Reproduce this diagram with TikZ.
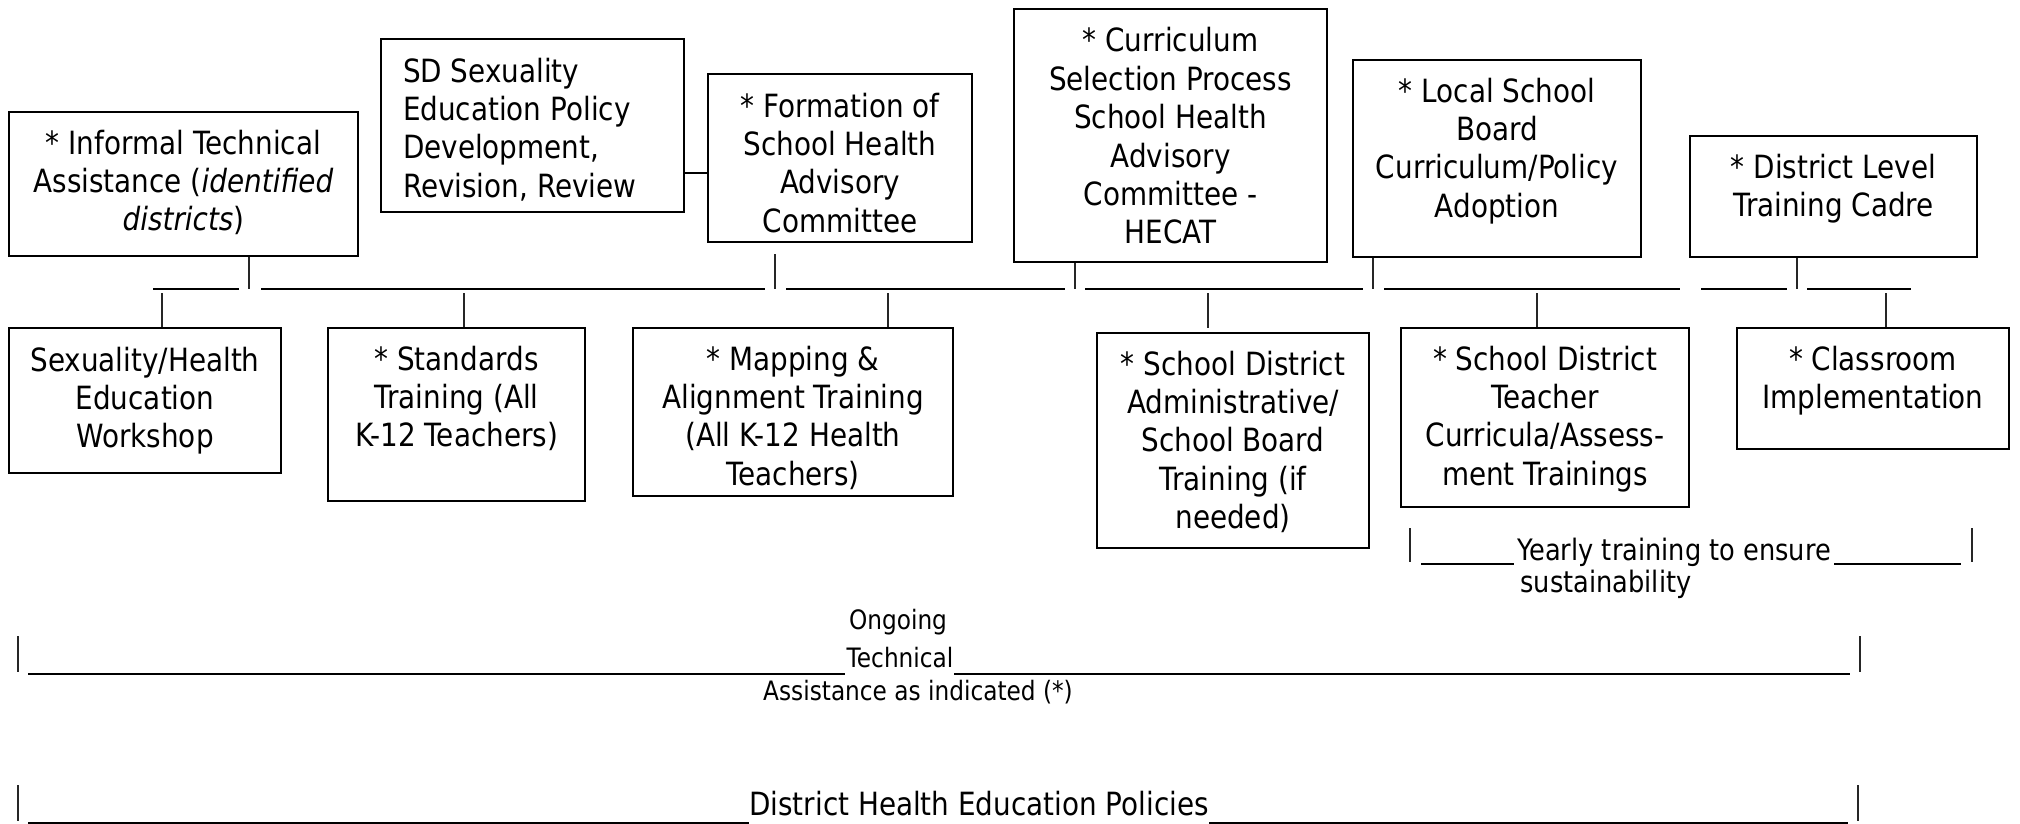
\documentclass[tikz,border=0pt]{standalone}
\usepackage{fontspec}
\setmainfont{DejaVu Sans}[FakeStretch=0.87]
\newcommand\mainsz{\fontsize{32}{38.4}\selectfont}
\newcommand\midsz{\fontsize{29.5}{32}\selectfont}
\newcommand\smallsz{\fontsize{26.7}{36}\selectfont}
\newcommand\cbox[4]{\parbox[c][#2pt][t]{#1pt}{\centering\rule{0pt}{#3pt}#4\par}}
\newcommand\lbox[4]{\parbox[c][#2pt][t]{#1pt}{\raggedright\leftskip=22pt\rule{0pt}{#3pt}#4\par}}
\tikzset{
  box/.style={draw, line width=2pt, inner sep=0pt, font=\mainsz},
  tick/.style={line width=1.3pt, black!85},
  uline/.style={line width=2pt},
  bar/.style={line width=1.7pt, black!85},
  lbl/.style={anchor=base, inner sep=0pt},
}
\begin{document}
\begin{tikzpicture}[x=1pt,y=-1pt]
\useasboundingbox (0,0) rectangle (2020,824);

% top row
\node[box] (A) at (183.5,184) {\cbox{349}{144}{42}{* Informal Technical\\Assistance (\textit{identified}\\\textit{districts})}};
\node[box] (B) at (532.5,125.5) {\lbox{303}{173}{43}{SD Sexuality\\Education Policy\\Development,\\Revision, Review}};
\node[box] (C) at (840,158) {\cbox{264}{168}{43}{* Formation of\\School Health\\Advisory\\Committee}};
\node[box] (D) at (1170.5,135.5) {\cbox{313}{253}{43}{* Curriculum\\Selection Process\\School Health\\Advisory\\Committee -\\HECAT}};
\node[box] (E) at (1497,158.5) {\cbox{288}{197}{42}{* Local School\\Board\\Curriculum/Policy\\Adoption}};
\node[box] (F) at (1833.5,196.5) {\cbox{287}{121}{42}{* District Level\\Training Cadre}};

% bottom row
\node[box] (G) at (145,400.5) {\cbox{272}{145}{43}{Sexuality/Health\\Education\\Workshop}};
\node[box] (H) at (456.5,414.5) {\cbox{257}{173}{42}{* Standards\\Training (All\\K-12 Teachers)}};
\node[box] (I) at (793,412) {\cbox{320}{168}{42}{* Mapping \&\\Alignment Training\\(All K-12 Health\\Teachers)}};
\node[box] (J) at (1233,440.5) {\cbox{272}{215}{42}{* School District\\Administrative/\\School Board\\Training (if\\needed)}};
\node[box] (K) at (1545,417.5) {\cbox{288}{179}{42}{* School District\\Teacher\\Curricula/Assess-\\ment Trainings}};
\node[box] (L) at (1873,388.5) {\cbox{272}{121}{42}{* Classroom\\Implementation}};

% link SD -> Formation
\coordinate (lk) at (0,173);
\draw[uline] (B.east |- lk) -- (C.west |- lk);

% spine
\foreach \a/\b in {153/239, 261/765, 786/1065, 1085/1363, 1384/1680, 1701/1787, 1807/1911}
  \draw[uline] (\a,289) -- (\b,289);

% up ticks
\coordinate (u1) at (249,289);
\coordinate (u2) at (775,289);
\coordinate (u2t) at (775,254);
\coordinate (u3) at (1075,289);
\coordinate (u4) at (1373,289);
\coordinate (u5) at (1797,289);
\draw[tick] (A.south -| u1) -- (u1);
\draw[tick] (u2t) -- (u2);
\draw[tick] (D.south -| u3) -- (u3);
\draw[tick] (E.south -| u4) -- (u4);
\draw[tick] (F.south -| u5) -- (u5);

% down ticks
\coordinate (d1) at (162,293);
\coordinate (d2) at (464,293);
\coordinate (d3) at (888,293);
\coordinate (d4) at (1208,293);
\coordinate (d4b) at (1208,328);
\coordinate (d5) at (1537,293);
\coordinate (d6) at (1886,293);
\draw[tick] (d1) -- (G.north -| d1);
\draw[tick] (d2) -- (H.north -| d2);
\draw[tick] (d3) -- (I.north -| d3);
\draw[tick] (d4) -- (d4b);
\draw[tick] (d5) -- (K.north -| d5);
\draw[tick] (d6) -- (L.north -| d6);

% yearly training bracket
\node[lbl, font=\midsz] (yr) at (1674,560) {Yearly training to ensure};
\node[lbl, font=\midsz] (sus) at (1606,592) {sustainability};
\draw[bar] (1410,528) -- (1410,562);
\draw[bar] (1972,528) -- (1972,562);
\draw[uline] (1421,564) -- (1514,564);
\draw[uline] (1834,564) -- (1961,564);

% ongoing technical assistance
\node[lbl, font=\smallsz] (og) at (898,629) {Ongoing};
\node[lbl, font=\smallsz] (tc) at (900,667) {Technical};
\node[lbl, font=\smallsz] (as) at (918,700) {Assistance as indicated (*)};
\draw[bar] (18,636) -- (18,672);
\draw[bar] (1860,636) -- (1860,672);
\draw[uline] (28,674) -- (845,674);
\draw[uline] (954,674) -- (1850,674);

% district health education policies
\node[lbl, font=\mainsz] (dh) at (979,815) {District Health Education Policies};
\draw[bar] (18,785) -- (18,821);
\draw[bar] (1858,785) -- (1858,821);
\draw[uline] (28,823) -- (749,823);
\draw[uline] (1209,823) -- (1848,823);
\end{tikzpicture}
\end{document}
